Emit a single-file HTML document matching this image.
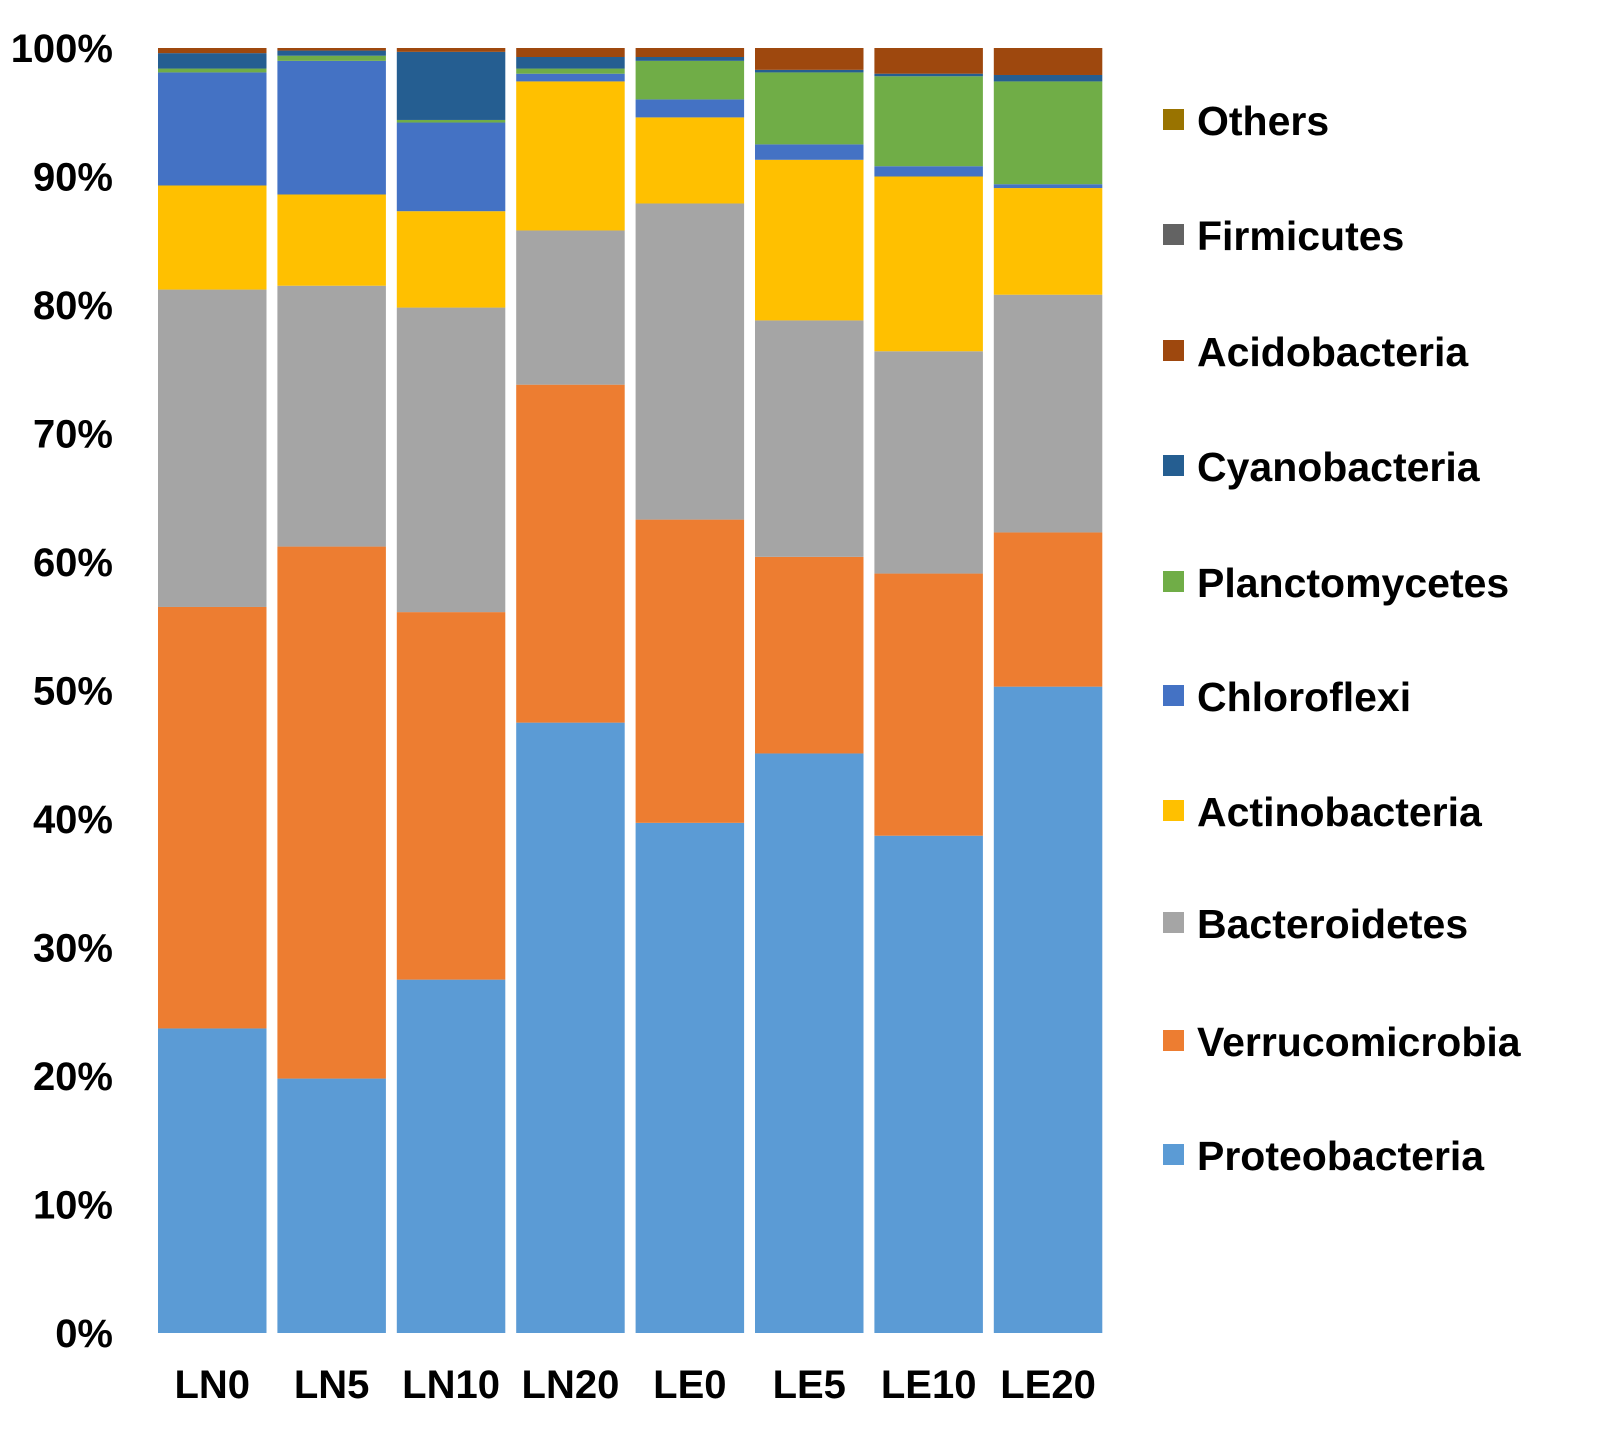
<!DOCTYPE html>
<html><head><meta charset="utf-8"><style>
html,body{margin:0;padding:0;background:#fff;overflow:hidden;width:1602px;height:1435px}
svg{display:block}
svg text{font-family:"Liberation Sans",Arial,sans-serif;font-weight:bold;fill:#000}
</style></head><body>
<svg id="chart" width="1602" height="1435" viewBox="0 0 1602 1435" xmlns="http://www.w3.org/2000/svg"></svg>
<script>
const categories=["LN0","LN5","LN10","LN20","LE0","LE5","LE10","LE20"];
const seriesNames=["Proteobacteria","Verrucomicrobia","Bacteroidetes","Actinobacteria","Chloroflexi","Planctomycetes","Cyanobacteria","Acidobacteria","Firmicutes","Others"];
const seriesColors=["#5B9BD5","#ED7D31","#A5A5A5","#FFC000","#4472C4","#70AD47","#255E91","#9E480E","#636363","#997300"];
const proteobacteria=[23.7,19.8,27.5,47.5,39.7,45.1,38.7,50.3];
const verrucomicrobia=[32.8,41.4,28.6,26.3,23.6,15.3,20.4,12.0];
const bacteroidetes=[24.7,20.3,23.7,12.0,24.6,18.4,17.3,18.5];
const actinobacteria=[8.1,7.1,7.5,11.6,6.7,12.5,13.6,8.3];
const chloroflexi=[8.8,10.4,6.9,0.6,1.4,1.2,0.8,0.3];
const planctomycetes=[0.3,0.4,0.2,0.4,3.0,5.6,7.0,8.0];
const cyanobacteria=[1.2,0.4,5.3,0.9,0.3,0.2,0.2,0.5];
const acidobacteria=[0.4,0.2,0.3,0.7,0.7,1.7,2.0,2.1];
const firmicutes=[0,0,0,0,0,0,0,0];
const others=[0,0,0,0,0,0,0,0];
const yTicks=[0,10,20,30,40,50,60,70,80,90,100];
const series=[proteobacteria,verrucomicrobia,bacteroidetes,actinobacteria,chloroflexi,planctomycetes,cyanobacteria,acidobacteria,firmicutes,others];

const svg=document.getElementById('chart');
const NS="http://www.w3.org/2000/svg";
const y0=1333,y100=48;
function yScale(p){return y0-(y0-y100)*p/100;}
function xScale(i){return 158+i*119.4;}
const barW=108.5;
function mk(t,a){const e=document.createElementNS(NS,t);for(const k in a)e.setAttribute(k,a[k]);svg.appendChild(e);return e;}

yTicks.forEach(v=>{
  const t=mk('text',{x:113,y:yScale(v)+14,'text-anchor':'end','font-size':40});
  t.textContent=v+'%';
  
  
});

categories.forEach((c,i)=>{
  let total=0;series.forEach(s=>total+=s[i]);
  const scale=total>100?100/total:1;
  let cum=0;
  series.forEach((s,k)=>{
    const v=s[i]*scale;
    if(v<=0)return;
    const r=mk('rect',{x:xScale(i),y:yScale(cum+v),width:barW,height:yScale(cum)-yScale(cum+v),fill:seriesColors[k]});
    
    
    cum+=v;
  });
  const t=mk('text',{x:xScale(i)+barW/2,y:1398,'text-anchor':'middle','font-size':40});
  t.textContent=c;
  
  
});

const legendOrder=[9,8,7,6,5,4,3,2,1,0];
const legendY=[120,235,351,466,582,696,811,923,1041,1155];
legendOrder.forEach((k,j)=>{
  const r=mk('rect',{x:1163,y:legendY[j]-11,width:21,height:21,fill:seriesColors[k]});
  
  
  const t=mk('text',{x:1197,y:legendY[j]+15,'font-size':41});
  t.textContent=seriesNames[k];
  
  
});
</script>
</body></html>
